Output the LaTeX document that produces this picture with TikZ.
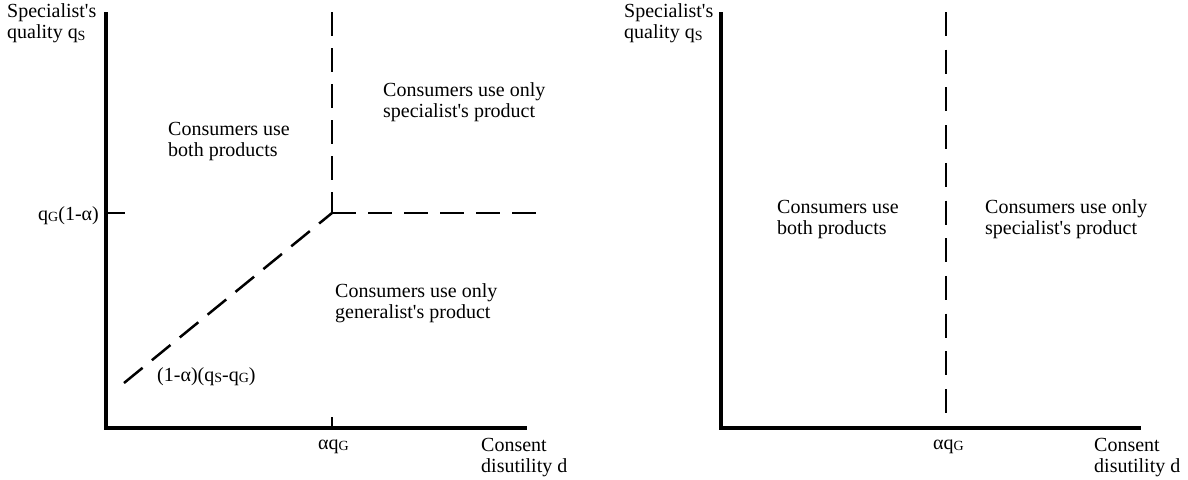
\documentclass[tikz,border=0pt]{standalone}
\usepackage{fontspec}
\setmainfont{Liberation Serif}
\newcommand\lowsub[1]{\raisebox{-1.5pt}{\fontsize{14}{14}\selectfont #1}}
\newcommand\apo{\textquotesingle}
\begin{document}
\begin{tikzpicture}[x=1pt,y=-1pt,
  lbl/.style={inner sep=0pt, anchor=base west, align=left, font=\fontsize{20}{21.5}\selectfont},
  axis/.style={line width=4pt},
  tick/.style={line width=2.5pt},
  dsh/.style={line width=2.5pt, dash pattern=on 24pt off 12pt}]
\useasboundingbox (0,0) rectangle (1188,479);
% ---------- left plot ----------
\coordinate (LO) at (106,428);
\coordinate (LT) at (106,12);
\coordinate (LX) at (527,428);
\coordinate (K) at (332,213);
\coordinate (KT) at (332,12);
\coordinate (KE) at (540,213);
\coordinate (D0) at (124,383);
\coordinate (TY) at (125,213);
\coordinate (TYa) at (106,213);
\coordinate (TX) at (332,417);
\coordinate (TXa) at (332,428);
\draw[axis] (LT) -- (LO) -- (LX);
\draw[tick] (TYa) -- (TY);
\draw[tick] (TXa) -- (TX);
\draw[dsh] (KT) -- (K);
\draw[dsh] (K) -- (KE);
\draw[dsh] (D0) -- (K);
\node[lbl] (ly) at (7,38.5) {Specialist\apo s\\quality q\lowsub{S}};
\node[lbl, anchor=base east] (lq) at (99,220) {q\lowsub{G}(1-α)};
\node[lbl] (lb) at (168,156.5) {Consumers use\\both products};
\node[lbl] (ls) at (383,117.5) {Consumers use only\\specialist\apo s product};
\node[lbl] (lg) at (335,318.5) {Consumers use only\\generalist\apo s product};
\node[lbl] (ld) at (157,381) {(1-α)(q\lowsub{S}-q\lowsub{G})};
\node[lbl] (la) at (318,449) {αq\lowsub{G}};
\node[lbl] (lx) at (481,472.5) {Consent\\disutility d};
% ---------- right plot ----------
\coordinate (RO) at (721,428);
\coordinate (RT) at (721,12);
\coordinate (RX) at (1141,428);
\coordinate (VT) at (946,12);
\coordinate (VB) at (946,413);
\draw[axis] (RT) -- (RO) -- (RX);
\draw[dsh, dash pattern=on 24pt off 13.7pt] (VT) -- (VB);
\node[lbl] (ry) at (624,38.5) {Specialist\apo s\\quality q\lowsub{S}};
\node[lbl] (rb) at (777,234.5) {Consumers use\\both products};
\node[lbl] (rs) at (985,234.5) {Consumers use only\\specialist\apo s product};
\node[lbl] (ra) at (933,449) {αq\lowsub{G}};
\node[lbl] (rx) at (1094,472.5) {Consent\\disutility d};
\end{tikzpicture}
\end{document}
